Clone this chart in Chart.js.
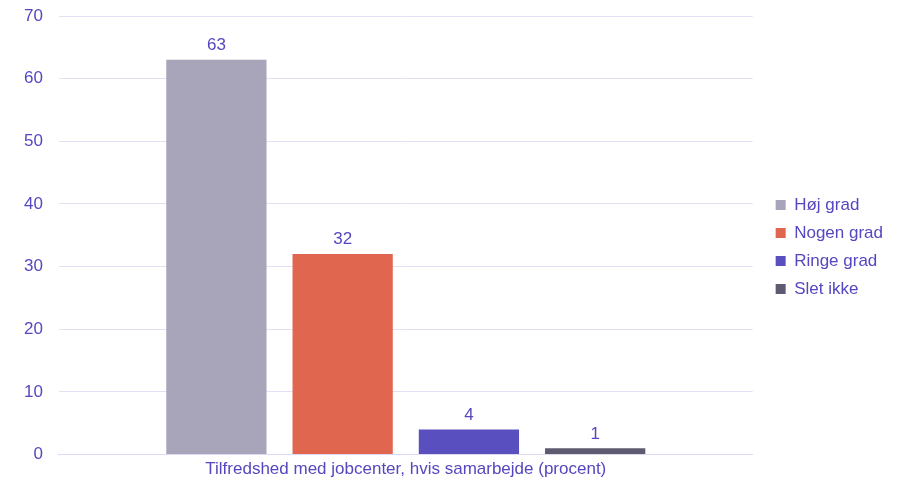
<!DOCTYPE html>
<html><head><meta charset="utf-8">
<script src="https://cdn.jsdelivr.net/npm/chart.js@4"></script>
<style>html,body{margin:0;padding:0;background:#fff}#wrap{width:902px;height:484px}</style>
</head><body><div id="wrap"><canvas id="c" width="902" height="484"></canvas></div>
<script>
const categories = ["Tilfredshed med jobcenter, hvis samarbejde (procent)"];
const seriesNames = ["Høj grad", "Nogen grad", "Ringe grad", "Slet ikke"];
const hojGrad = [63];
const nogenGrad = [32];
const ringeGrad = [4];
const sletIkke = [1];
const yTicks = [0, 10, 20, 30, 40, 50, 60, 70];
const colors = ["#a8a4b9", "#e06650", "#5a4fbf", "#5e5a72"];
const textColor = "#5447c0";
const values = [hojGrad, nogenGrad, ringeGrad, sletIkke];
const FAMILY = '"Liberation Sans"';
const FS = 17;

const labelPlugin = {
  id: 'barLabels',
  afterLayout(chart) {
    if (chart.legend) {
      chart.legend.left += 12; chart.legend.right += 12;
      chart.legend.top += 5; chart.legend.bottom += 5;
    }
  },
  afterDatasetsDraw(chart) {
    const ctx = chart.ctx;
    ctx.save();
    ctx.font = FS + 'px ' + FAMILY;
    ctx.fillStyle = textColor;
    ctx.textAlign = 'center';
    ctx.textBaseline = 'bottom';
    chart.data.datasets.forEach((ds, i) => {
      const meta = chart.getDatasetMeta(i);
      meta.data.forEach((el, j) => {
        ctx.fillText(String(ds.data[j]), el.x, el.y - 6);
      });
    });
    ctx.restore();
  }
};

new Chart(document.getElementById('c'), {
  type: 'bar',
  data: {
    labels: categories,
    datasets: seriesNames.map((n, i) => ({
      label: n,
      data: values[i],
      backgroundColor: colors[i],
      borderWidth: 0,
      categoryPercentage: 0.728,
      barPercentage: 0.794
    }))
  },
  options: {
    responsive: false,
    animation: false,
    devicePixelRatio: 1,
    layout: { padding: { top: 0, right: 21, left: 8, bottom: 0 } },
    plugins: {
      legend: {
        position: 'right',
        labels: {
          boxWidth: 10, boxHeight: 10, color: textColor,
          font: { size: FS, family: FAMILY },
          padding: 11
        }
      },
      tooltip: { enabled: false }
    },
    scales: {
      x: {
        grid: { display: false, drawTicks: false },
        border: { color: '#dcd9f2' },
        ticks: { color: textColor, font: { size: FS, family: FAMILY }, padding: 4.5 }
      },
      y: {
        min: 0, max: 70,
        afterBuildTicks(axis) { axis.ticks = yTicks.map(v => ({ value: v })); },
        afterFit(axis) { axis.paddingTop = 16; },
        grid: { color: '#e3e0f6', drawTicks: false },
        border: { display: false },
        ticks: { color: textColor, font: { size: FS, family: FAMILY }, padding: 16 }
      }
    }
  },
  plugins: [labelPlugin]
});
</script></body></html>
